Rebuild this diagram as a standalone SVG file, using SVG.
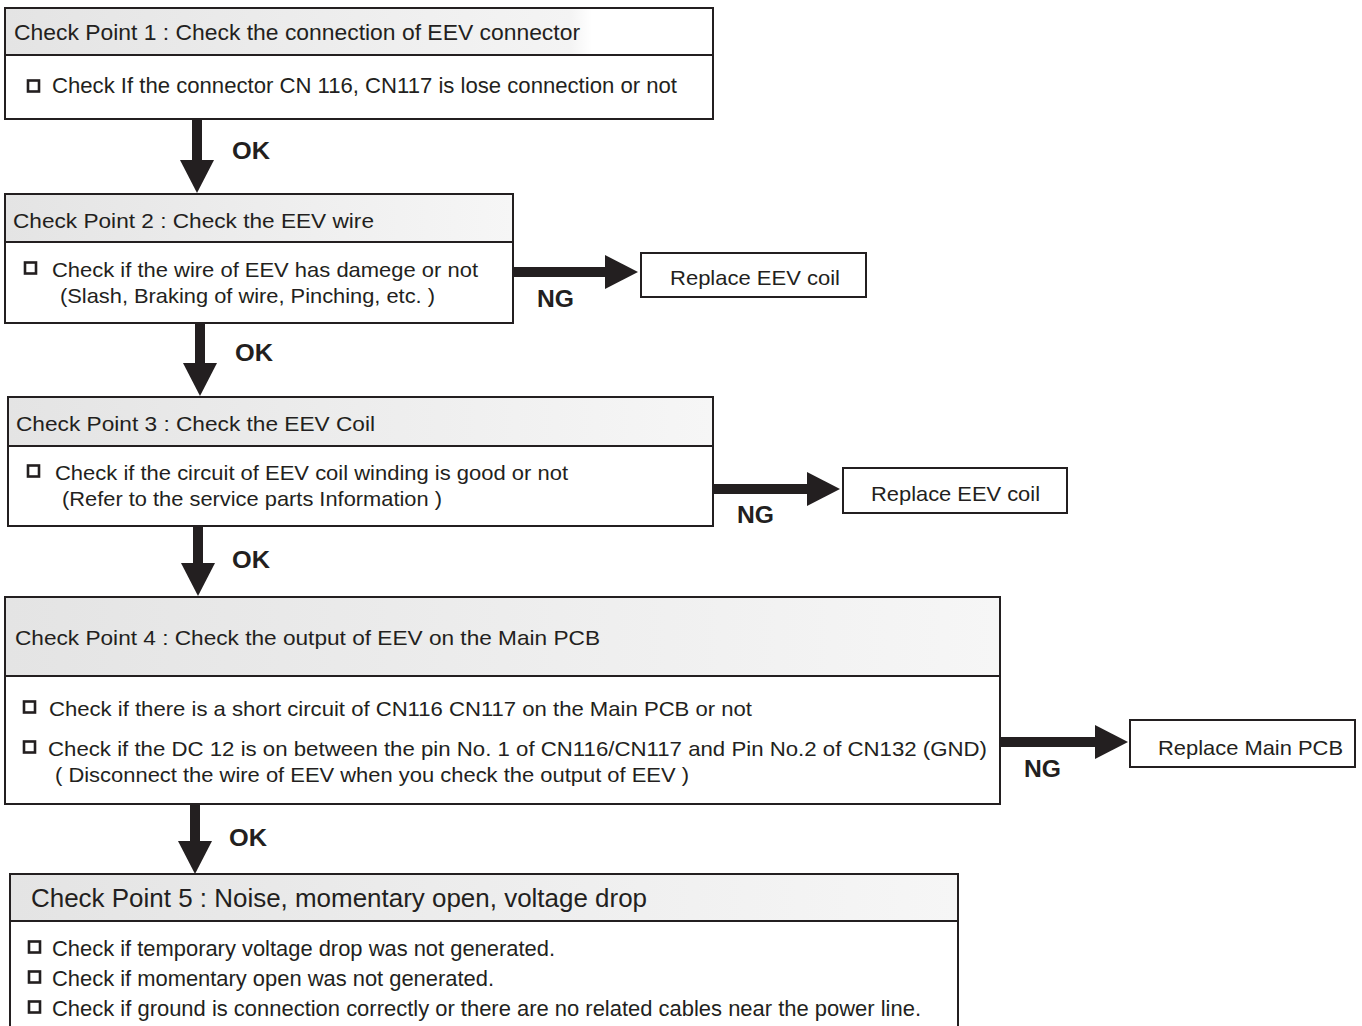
<svg xmlns="http://www.w3.org/2000/svg" width="1362" height="1026" viewBox="0 0 1362 1026">
<style>
.box{fill:#fff;stroke:#231f20;stroke-width:2}
.hdr{stroke:#231f20;stroke-width:2}
.t{font-family:"Liberation Sans",Arial,sans-serif;font-size:21px;fill:#231f20}
.n{font-size:22px}
.h5{font-size:25px}
.lbl{font-family:"Liberation Sans",Arial,sans-serif;font-size:23px;font-weight:bold;fill:#231f20}
.cb{fill:none;stroke:#231f20;stroke-width:2.6}
.conn{stroke:#231f20;stroke-width:10;fill:none;marker-end:url(#ah)}
</style>
<defs>
<linearGradient id="g" x1="0" y1="0" x2="1" y2="0">
<stop offset="0" stop-color="#e4e4e4"/>
<stop offset="0.8" stop-color="#f4f4f4"/>
<stop offset="0.83" stop-color="#ffffff"/>
<stop offset="1" stop-color="#ffffff"/>
</linearGradient>
<linearGradient id="g2" x1="0" y1="0" x2="1" y2="0">
<stop offset="0" stop-color="#e4e4e4"/>
<stop offset="1" stop-color="#f6f6f6"/>
</linearGradient>
<marker id="ah" markerUnits="userSpaceOnUse" markerWidth="34" markerHeight="34" refX="0" refY="17" orient="auto">
<path d="M0,0 L33,17 L0,34 Z" fill="#231f20"/>
</marker>
</defs>

<g id="connectors">
<line class="conn" x1="197" y1="119" x2="197" y2="160"/>
<line class="conn" x1="200" y1="323" x2="200" y2="363"/>
<line class="conn" x1="198" y1="526" x2="198" y2="563"/>
<line class="conn" x1="195" y1="804" x2="195" y2="841"/>
<line class="conn" x1="513" y1="272" x2="605" y2="272"/>
<line class="conn" x1="713" y1="489" x2="807" y2="489"/>
<line class="conn" x1="1000" y1="742" x2="1095" y2="742"/>
<text class="lbl" x="232" y="159" textLength="38" lengthAdjust="spacingAndGlyphs">OK</text>
<text class="lbl" x="235" y="361" textLength="38" lengthAdjust="spacingAndGlyphs">OK</text>
<text class="lbl" x="232" y="568" textLength="38" lengthAdjust="spacingAndGlyphs">OK</text>
<text class="lbl" x="229" y="846" textLength="38" lengthAdjust="spacingAndGlyphs">OK</text>
<text class="lbl" x="537" y="307" textLength="37" lengthAdjust="spacingAndGlyphs">NG</text>
<text class="lbl" x="737" y="523" textLength="37" lengthAdjust="spacingAndGlyphs">NG</text>
<text class="lbl" x="1024" y="777" textLength="37" lengthAdjust="spacingAndGlyphs">NG</text>
</g>

<g id="cp1">
<rect class="box" x="5" y="8" width="708" height="111"/>
<rect x="6" y="9" width="706" height="46" fill="url(#g)"/>
<line class="hdr" x1="5" y1="55" x2="713" y2="55"/>
<text class="t n" x="14" y="40" textLength="566" lengthAdjust="spacingAndGlyphs">Check Point 1 : Check the connection of  EEV connector</text>
<rect class="cb" x="28" y="80.5" width="11" height="11"/>
<text class="t n" x="52" y="93" textLength="625" lengthAdjust="spacingAndGlyphs">Check If the connector CN 116, CN117 is lose connection or not</text>
</g>

<g id="cp2">
<rect class="box" x="5" y="194" width="508" height="129"/>
<rect x="6" y="195" width="506" height="47" fill="url(#g2)"/>
<line class="hdr" x1="5" y1="242" x2="513" y2="242"/>
<text class="t" x="13" y="228" textLength="361" lengthAdjust="spacingAndGlyphs">Check Point 2 : Check the EEV wire</text>
<rect class="cb" x="25" y="262.5" width="11" height="11"/>
<text class="t" x="52" y="277" textLength="426" lengthAdjust="spacingAndGlyphs">Check if the wire of EEV has damege or not</text>
<text class="t" x="60" y="303" textLength="375" lengthAdjust="spacingAndGlyphs">(Slash, Braking of wire, Pinching, etc. )</text>
</g>

<g id="ng1">
<rect class="box" x="641" y="253" width="225" height="44"/>
<text class="t" x="670" y="285" textLength="170" lengthAdjust="spacingAndGlyphs">Replace EEV coil</text>
</g>

<g id="cp3">
<rect class="box" x="8" y="397" width="705" height="129"/>
<rect x="9" y="398" width="703" height="48" fill="url(#g2)"/>
<line class="hdr" x1="8" y1="446" x2="713" y2="446"/>
<text class="t" x="16" y="431" textLength="359" lengthAdjust="spacingAndGlyphs">Check Point 3 : Check the EEV Coil</text>
<rect class="cb" x="28" y="465.5" width="11" height="11"/>
<text class="t" x="55" y="480" textLength="513" lengthAdjust="spacingAndGlyphs">Check if the circuit of EEV coil winding is good or not</text>
<text class="t" x="62" y="506" textLength="380" lengthAdjust="spacingAndGlyphs">(Refer to the service parts Information )</text>
</g>

<g id="ng2">
<rect class="box" x="843" y="468" width="224" height="45"/>
<text class="t" x="871" y="501" textLength="169" lengthAdjust="spacingAndGlyphs">Replace EEV coil</text>
</g>

<g id="cp4">
<rect class="box" x="5" y="597" width="995" height="207"/>
<rect x="6" y="598" width="993" height="78" fill="url(#g2)"/>
<line class="hdr" x1="5" y1="676" x2="1000" y2="676"/>
<text class="t" x="15" y="645" textLength="585" lengthAdjust="spacingAndGlyphs">Check Point 4 : Check the output of EEV on the Main PCB</text>
<rect class="cb" x="24" y="701.5" width="11" height="11"/>
<text class="t" x="49" y="716" textLength="703" lengthAdjust="spacingAndGlyphs">Check if there is a short circuit of CN116 CN117 on the Main PCB or not</text>
<rect class="cb" x="24" y="741.5" width="11" height="11"/>
<text class="t" x="48" y="756" textLength="939" lengthAdjust="spacingAndGlyphs">Check if the DC 12 is on between the pin No. 1 of CN116/CN117  and Pin No.2 of CN132 (GND)</text>
<text class="t" x="55" y="782" textLength="634" lengthAdjust="spacingAndGlyphs">( Disconnect the wire of EEV when you check the output of EEV )</text>
</g>

<g id="ng3">
<rect class="box" x="1130" y="720" width="225" height="47"/>
<text class="t" x="1158" y="755" textLength="185" lengthAdjust="spacingAndGlyphs">Replace Main PCB</text>
</g>

<g id="cp5">
<path d="M10,1030 L10,874 L958,874 L958,1030" fill="#fff" stroke="#231f20" stroke-width="2"/>
<rect x="11" y="875" width="946" height="46" fill="url(#g2)"/>
<line class="hdr" x1="10" y1="921" x2="958" y2="921"/>
<text class="t h5" x="31" y="907" textLength="616" lengthAdjust="spacingAndGlyphs">Check Point 5 : Noise, momentary open, voltage drop</text>
<rect class="cb" x="29" y="941.5" width="11" height="11"/>
<text class="t n" x="52" y="956" textLength="503" lengthAdjust="spacingAndGlyphs">Check if temporary voltage drop was not generated.</text>
<rect class="cb" x="29" y="971.5" width="11" height="11"/>
<text class="t n" x="52" y="986" textLength="442" lengthAdjust="spacingAndGlyphs">Check if momentary open was not generated.</text>
<rect class="cb" x="29" y="1001.5" width="11" height="11"/>
<text class="t n" x="52" y="1016" textLength="869" lengthAdjust="spacingAndGlyphs">Check if ground is connection correctly or there are no related cables near the power line.</text>
</g>
</svg>
